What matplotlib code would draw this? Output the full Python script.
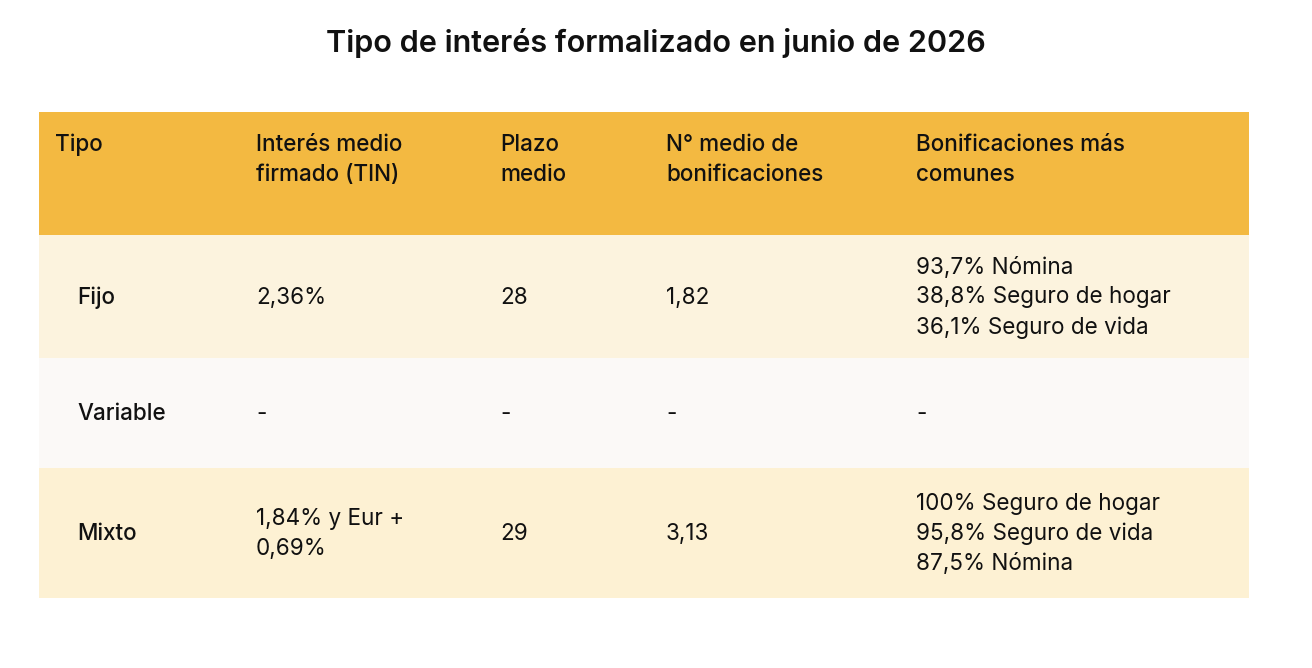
import matplotlib.pyplot as plt
from matplotlib.patches import Rectangle

# table content
title = 'Tipo de interés formalizado en junio de 2026'
headers = ['Tipo', 'Interés medio\nfirmado (TIN)', 'Plazo\nmedio',
           'N° medio de\nbonificaciones', 'Bonificaciones más\ncomunes']
tipos = ['Fijo', 'Variable', 'Mixto']
interes = ['2,36%', '-', '1,84% y Eur +\n0,69%']
plazo = ['28', '-', '29']
n_bonif = ['1,82', '-', '3,13']
bonif_comunes = ['93,7% Nómina\n38,8% Seguro de hogar\n36,1% Seguro de vida',
                 '-',
                 '100% Seguro de hogar\n95,8% Seguro de vida\n87,5% Nómina']

W, H = 1312, 668
plt.rcParams['font.family'] = ['Inter', 'DejaVu Sans']

fig = plt.figure(figsize=(W / 100, H / 100), dpi=100)
ax = fig.add_axes([0, 0, 1, 1])
ax.set_xlim(0, W)
ax.set_ylim(H, 0)
ax.axis('off')

x0, x1 = 39, 1249
header_top, header_bot = 112, 235
row_edges = [235, 358, 468, 598]
row_colors = ['#FCF3DE', '#FBF9F7', '#FDF1D3']
col_x = [55, 256, 500, 666, 916]
first_col_x = 77
line_h = 30
fs = 16.2

ax.text(W / 2, 43, title, ha='center', va='center', fontsize=22,
        fontweight='semibold', color='#111111')

ax.add_patch(Rectangle((x0, header_top), x1 - x0, header_bot - header_top,
                       facecolor='#F3B941', edgecolor='none'))
for x, h in zip(col_x, headers):
    for k, line in enumerate(h.split('\n')):
        ax.text(x, 145 + k * line_h, line, ha='left', va='center',
                fontsize=fs, fontweight='medium', color='#111111')


def draw_cell(x, yc, s, weight='normal'):
    lines = s.split('\n')
    n = len(lines)
    for k, line in enumerate(lines):
        y = yc + (k - (n - 1) / 2) * line_h
        ax.text(x, y, line, ha='left', va='center', fontsize=fs,
                fontweight=weight, color='#111111')


for i in range(len(tipos)):
    top, bot = row_edges[i], row_edges[i + 1]
    ax.add_patch(Rectangle((x0, top), x1 - x0, bot - top,
                           facecolor=row_colors[i], edgecolor='none'))
    yc = (top + bot) / 2 + 1
    draw_cell(first_col_x, yc, tipos[i], 'medium')
    draw_cell(col_x[1], yc, interes[i])
    draw_cell(col_x[2], yc, plazo[i])
    draw_cell(col_x[3], yc, n_bonif[i])
    draw_cell(col_x[4], yc, bonif_comunes[i])

fig.savefig('out.png', dpi=100, facecolor='white')
